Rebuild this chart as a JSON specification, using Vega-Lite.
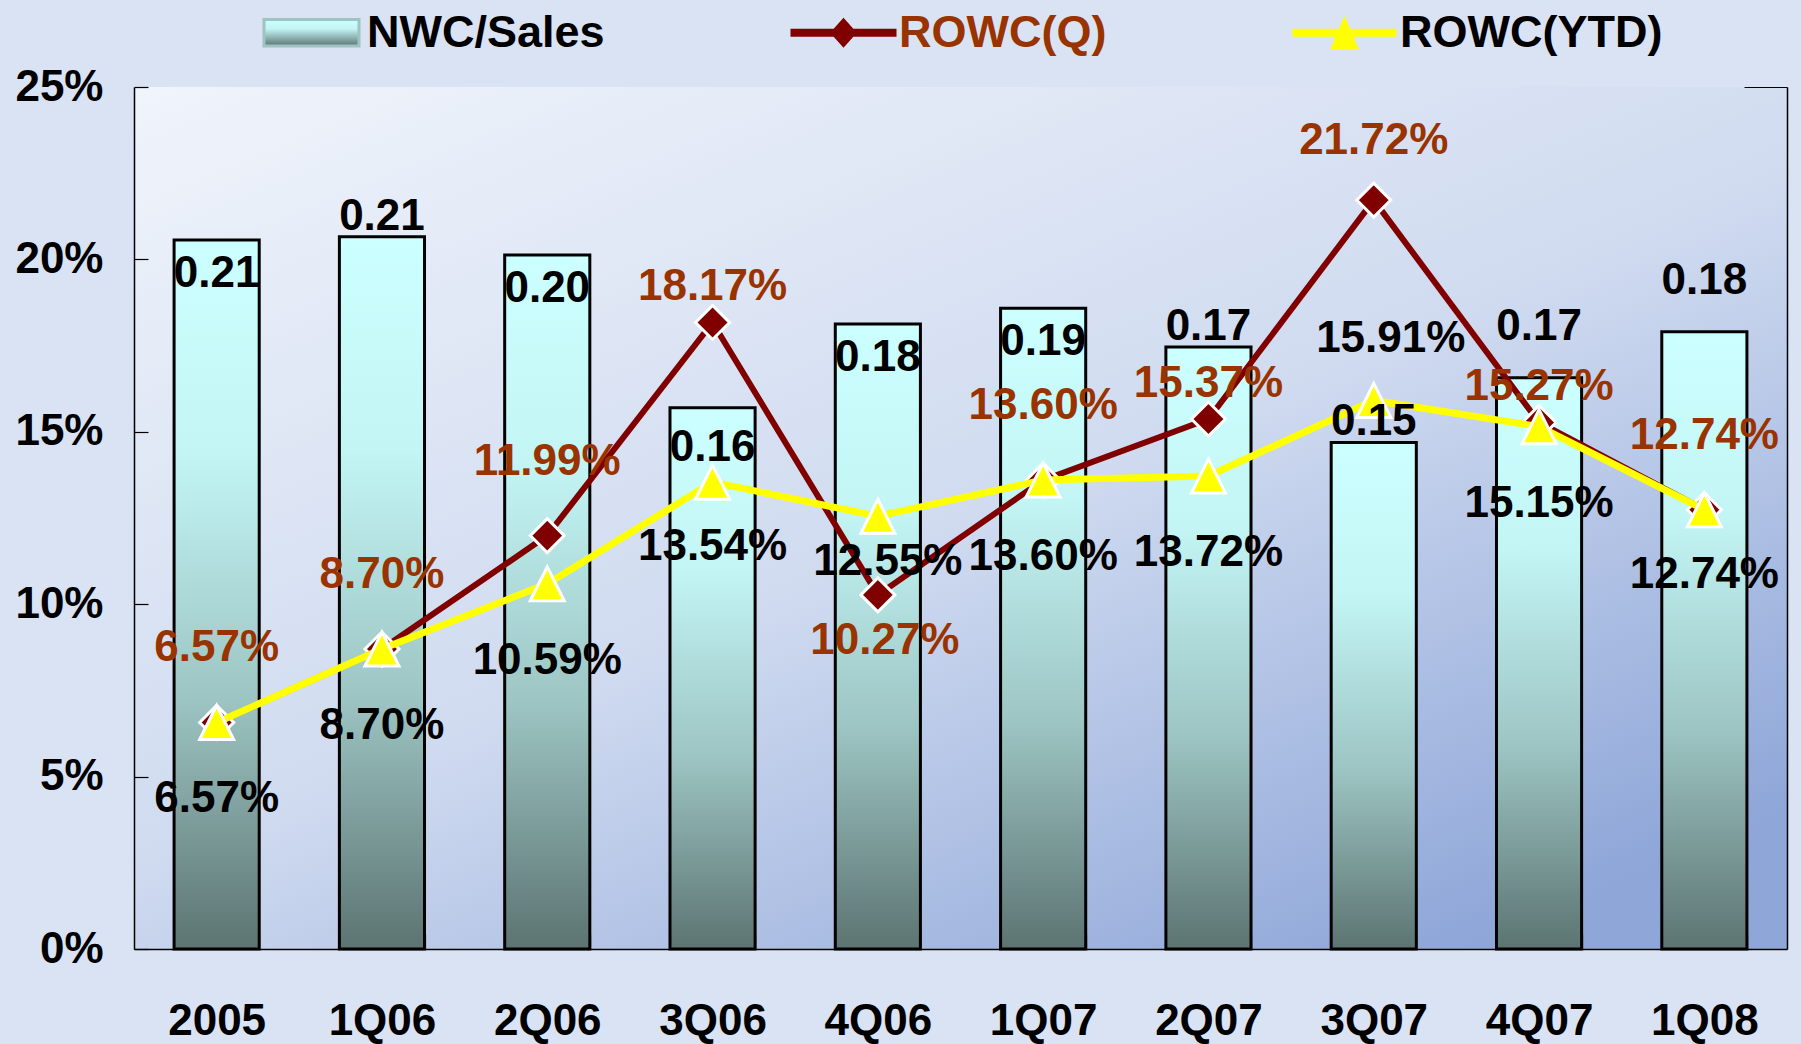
{
  "$schema": "https://vega.github.io/schema/vega-lite/v6.json",
  "width": 1653,
  "height": 862,
  "autosize": {"type": "none"},
  "padding": {"left": 134, "top": 87, "right": 14, "bottom": 95},
  "background": "#D9E3F4",
  "config": {
    "view": {
      "stroke": null,
      "fill": {"gradient": "linear", "x1": 0, "y1": 0, "x2": 0.8, "y2": 1,
        "stops": [{"offset": 0, "color": "#F0F4FB"}, {"offset": 0.55, "color": "#D0DBF0"}, {"offset": 1, "color": "#8EA6D8"}]}
    },
    "font": "Liberation Sans",
    "axis": {
      "title": null, "grid": false,
      "labelFont": "Liberation Sans", "labelFontSize": 44, "labelFontWeight": "bold", "labelColor": "#000000",
      "domainColor": "#000000", "domainWidth": 1.5, "tickColor": "#000000", "tickWidth": 1.2
    },
    "text": {"font": "Liberation Sans", "fontSize": 44, "fontWeight": "bold", "baseline": "middle", "align": "center"}
  },
  "data": {
    "values": [
      {"period": "2005", "nwc": 0.2056, "q": 0.0657, "ytd": 0.0657},
      {"period": "1Q06", "nwc": 0.2066, "q": 0.0870, "ytd": 0.0870},
      {"period": "2Q06", "nwc": 0.2013, "q": 0.1199, "ytd": 0.1059},
      {"period": "3Q06", "nwc": 0.1570, "q": 0.1817, "ytd": 0.1354},
      {"period": "4Q06", "nwc": 0.1813, "q": 0.1027, "ytd": 0.1255},
      {"period": "1Q07", "nwc": 0.1858, "q": 0.1360, "ytd": 0.1360},
      {"period": "2Q07", "nwc": 0.1746, "q": 0.1537, "ytd": 0.1372},
      {"period": "3Q07", "nwc": 0.1469, "q": 0.2172, "ytd": 0.1591},
      {"period": "4Q07", "nwc": 0.1657, "q": 0.1527, "ytd": 0.1515},
      {"period": "1Q08", "nwc": 0.1790, "q": 0.1274, "ytd": 0.1274}
    ]
  },
  "encoding": {
    "x": {
      "field": "period", "type": "nominal", "sort": null,
      "scale": {"paddingInner": 0.485, "paddingOuter": 0.2425},
      "axis": {"labelAngle": 0, "tickBand": "extent", "tickSize": -15, "labelPadding": 65}
    }
  },
  "layer": [
    {
      "mark": {"type": "bar", "stroke": "#000000", "strokeWidth": 3,
        "fill": {"gradient": "linear", "x1": 0, "y1": 0, "x2": 0, "y2": 1,
          "stops": [{"offset": 0, "color": "#CCFFFF"}, {"offset": 0.3, "color": "#C3F5F5"}, {"offset": 0.65, "color": "#9CC4C2"}, {"offset": 1, "color": "#5C7472"}]}},
      "encoding": {
        "y": {"field": "nwc", "type": "quantitative",
          "scale": {"domain": [0, 0.25], "nice": false, "zero": true},
          "axis": {"orient": "left", "format": "0%", "values": [0, 0.05, 0.1, 0.15, 0.2, 0.25], "tickSize": -14, "labelPadding": 45}}
      }
    },
    {
      "mark": {"type": "line", "strokeWidth": 6},
      "encoding": {
        "y": {"field": "q", "type": "quantitative", "axis": null},
        "color": {"datum": "ROWC(Q)", "type": "nominal",
          "scale": {"domain": ["NWC/Sales", "ROWC(Q)", "ROWC(YTD)"], "range": ["#9CC4C2", "#800000", "#FFFF00"]},
          "legend": {
            "orient": "none", "legendX": 155, "legendY": -77, "direction": "horizontal", "title": null,
            "padding": 0, "labelFont": "Liberation Sans", "labelFontSize": 45, "labelFontWeight": "bold",
            "labelOffset": 33, "columnPadding": 183, "symbolSize": 9025, "labelLimit": 400,
            "encode": {
              "symbols": {"update": {
                "shape": {"signal": "datum.value === 'NWC/Sales' ? 'M-1,-0.28H1V0.28H-1Z' : datum.value === 'ROWC(Q)' ? 'M-1.1,-0.07L-0.2,-0.07L0,-0.29L0.2,-0.07L1.1,-0.07L1.1,0.07L0.2,0.07L0,0.29L-0.2,0.07L-1.1,0.07Z' : 'M-1.08,-0.07L-0.106,-0.07L0,-0.32L0.106,-0.07L1.08,-0.07L1.08,0.07L0.166,0.07L0.28,0.34L-0.28,0.34L-0.166,0.07L-1.08,0.07Z'"},
                "fill": {"signal": "datum.value === 'NWC/Sales' ? {gradient: 'linear', x1: 0, y1: 0, x2: 0, y2: 1, stops: [{offset: 0, color: '#CCFFFF'}, {offset: 0.35, color: '#C3F5F5'}, {offset: 1, color: '#5C7472'}]} : datum.value === 'ROWC(Q)' ? '#800000' : '#FFFF00'"},
                "stroke": {"signal": "datum.value === 'NWC/Sales' ? '#000000' : '#FFFFFF'"},
                "strokeWidth": {"signal": "datum.value === 'NWC/Sales' ? 3 : 1.5"},
                "opacity": {"value": 1}
              }},
              "labels": {"update": {"fill": {"signal": "datum.value === 'ROWC(Q)' ? '#993300' : '#000000'"}}}
            }
          }
        }
      }
    },
    {
      "mark": {"type": "point", "shape": "diamond", "size": 1156, "filled": true, "fill": "#800000", "stroke": "#FFFFFF", "strokeWidth": 3, "opacity": 1},
      "encoding": {"y": {"field": "q", "type": "quantitative", "axis": null}}
    },
    {
      "mark": {"type": "line", "strokeWidth": 7},
      "encoding": {
        "y": {"field": "ytd", "type": "quantitative", "axis": null},
        "color": {"datum": "ROWC(YTD)", "type": "nominal"}
      }
    },
    {
      "mark": {"type": "point", "shape": "M0,-1L1,1L-1,1Z", "size": 1156, "filled": true, "fill": "#FFFF00", "stroke": "#FFFFFF", "strokeWidth": 3, "opacity": 1},
      "encoding": {
        "y": {"field": "ytd", "type": "quantitative",
          "axis": {"orient": "right", "labels": false, "values": [0.25], "tickSize": -43, "domain": true}}
      }
    },
    {
      "transform": [{"filter": {"field": "period", "oneOf": ["2005", "2Q06", "4Q06", "1Q07"]}}],
      "mark": {"type": "text", "dy": 34, "color": "#000000"},
      "encoding": {"y": {"field": "nwc", "type": "quantitative", "axis": null}, "text": {"field": "nwc", "format": ".2f"}}
    },
    {
      "transform": [{"filter": {"field": "period", "oneOf": ["3Q06"]}}],
      "mark": {"type": "text", "dy": 40, "color": "#000000"},
      "encoding": {"y": {"field": "nwc", "type": "quantitative", "axis": null}, "text": {"field": "nwc", "format": ".2f"}}
    },
    {
      "transform": [{"filter": {"field": "period", "oneOf": ["1Q06", "2Q07", "3Q07"]}}],
      "mark": {"type": "text", "dy": -20, "color": "#000000"},
      "encoding": {"y": {"field": "nwc", "type": "quantitative", "axis": null}, "text": {"field": "nwc", "format": ".2f"}}
    },
    {
      "transform": [{"filter": {"field": "period", "oneOf": ["4Q07", "1Q08"]}}],
      "mark": {"type": "text", "dy": -51, "color": "#000000"},
      "encoding": {"y": {"field": "nwc", "type": "quantitative", "axis": null}, "text": {"field": "nwc", "format": ".2f"}}
    },
    {
      "transform": [{"filter": {"field": "period", "oneOf": ["2005", "1Q06", "2Q06", "1Q07", "1Q08"]}}],
      "mark": {"type": "text", "dy": -74, "color": "#993300"},
      "encoding": {"y": {"field": "q", "type": "quantitative", "axis": null}, "text": {"field": "q", "format": ".2%"}}
    },
    {
      "transform": [{"filter": {"field": "period", "oneOf": ["3Q06", "2Q07", "4Q07"]}}],
      "mark": {"type": "text", "dy": -35, "color": "#993300"},
      "encoding": {"y": {"field": "q", "type": "quantitative", "axis": null}, "text": {"field": "q", "format": ".2%"}}
    },
    {
      "transform": [{"filter": {"field": "period", "oneOf": ["3Q07"]}}],
      "mark": {"type": "text", "dy": -59, "color": "#993300"},
      "encoding": {"y": {"field": "q", "type": "quantitative", "axis": null}, "text": {"field": "q", "format": ".2%"}}
    },
    {
      "transform": [{"filter": {"field": "period", "oneOf": ["4Q06"]}}],
      "mark": {"type": "text", "dy": 46, "dx": 7, "color": "#993300"},
      "encoding": {"y": {"field": "q", "type": "quantitative", "axis": null}, "text": {"field": "q", "format": ".2%"}}
    },
    {
      "transform": [{"filter": {"field": "period", "oneOf": ["2005", "1Q06", "2Q06", "1Q07", "2Q07", "4Q07"]}}],
      "mark": {"type": "text", "dy": 77, "color": "#000000"},
      "encoding": {"y": {"field": "ytd", "type": "quantitative", "axis": null}, "text": {"field": "ytd", "format": ".2%"}}
    },
    {
      "transform": [{"filter": {"field": "period", "oneOf": ["3Q06", "1Q08"]}}],
      "mark": {"type": "text", "dy": 65, "color": "#000000"},
      "encoding": {"y": {"field": "ytd", "type": "quantitative", "axis": null}, "text": {"field": "ytd", "format": ".2%"}}
    },
    {
      "transform": [{"filter": {"field": "period", "oneOf": ["4Q06"]}}],
      "mark": {"type": "text", "dy": 46, "dx": 10, "color": "#000000"},
      "encoding": {"y": {"field": "ytd", "type": "quantitative", "axis": null}, "text": {"field": "ytd", "format": ".2%"}}
    },
    {
      "transform": [{"filter": {"field": "period", "oneOf": ["3Q07"]}}],
      "mark": {"type": "text", "dy": -61, "dx": 17, "color": "#000000"},
      "encoding": {"y": {"field": "ytd", "type": "quantitative", "axis": null}, "text": {"field": "ytd", "format": ".2%"}}
    }
  ],
  "resolve": {"axis": {"y": "independent"}}
}
